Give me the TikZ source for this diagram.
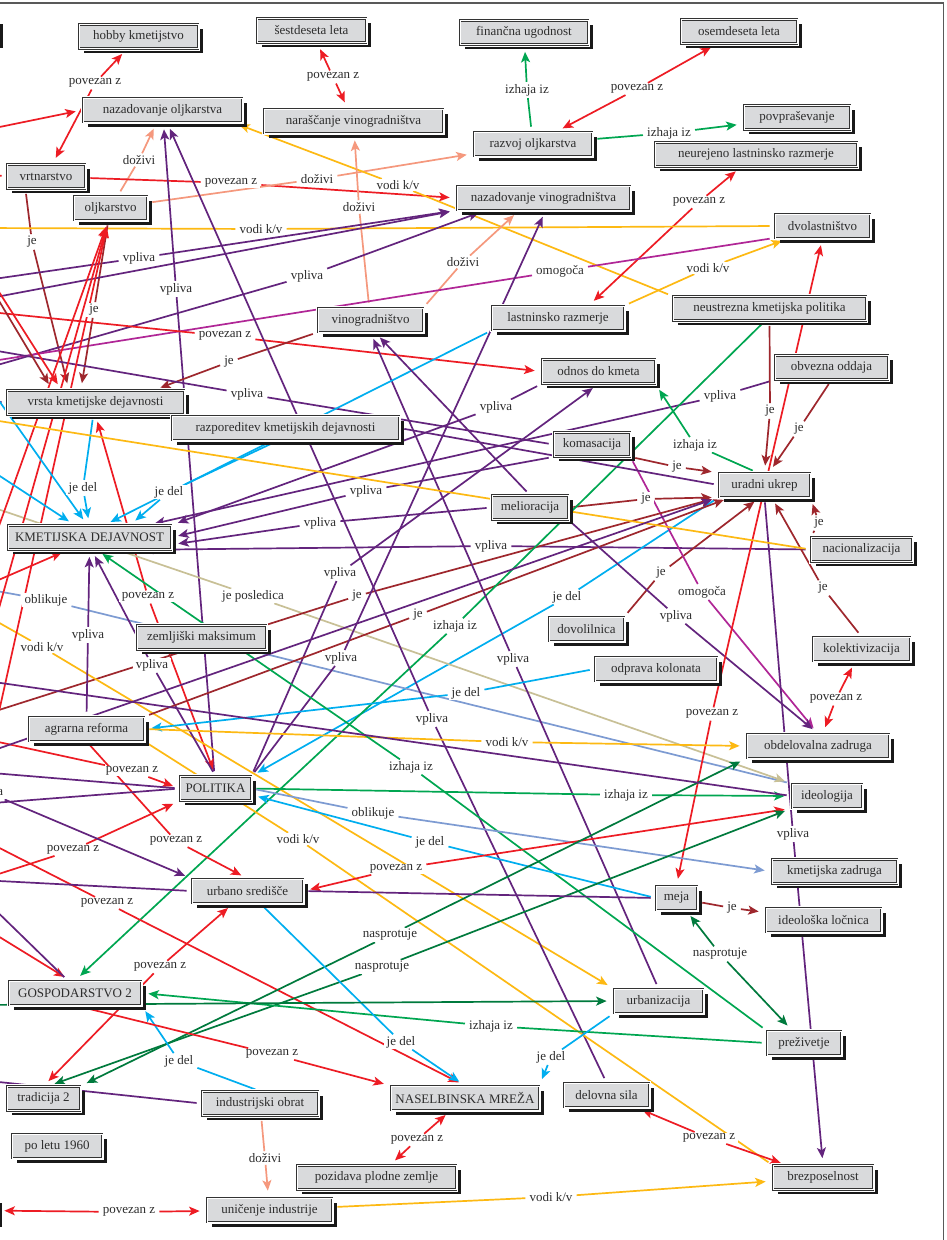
\documentclass[tikz,border=0pt]{standalone}
\usepackage{fontspec}
\setmainfont{Liberation Serif}
\usetikzlibrary{arrows.meta,shadows}
\definecolor{boxgray}{RGB}{217,218,220}
\definecolor{txtgray}{RGB}{45,45,45}
\definecolor{cRed}{RGB}{237,28,36}
\definecolor{cGreen}{RGB}{0,166,81}
\definecolor{cDkGreen}{RGB}{0,122,61}
\definecolor{cOrange}{RGB}{253,185,19}
\definecolor{cPurple}{RGB}{99,36,125}
\definecolor{cMag}{RGB}{176,38,150}
\definecolor{cCyan}{RGB}{0,174,239}
\definecolor{cBrown}{RGB}{158,39,45}
\definecolor{cSalmon}{RGB}{245,152,125}
\definecolor{cLtBlue}{RGB}{125,155,210}
\definecolor{cKhaki}{RGB}{200,192,150}
\pgfdeclarelayer{bg}
\pgfsetlayers{bg,main}
\newcommand\fs{\fontsize{13}{14}\selectfont}
% connector through a label node: source -- label -> target
\newcommand\lkone[4]{%
  \draw[ln,#1,shorten <=5pt,shorten >=1pt] (#2) -- (#3);
  \draw[ln,#1,->,shorten <=1pt,shorten >=7pt] (#3) -- (#4);}
% two-headed connector through a label node
\newcommand\lktwo[4]{%
  \draw[ln,#1,<-,shorten <=7pt,shorten >=1pt] (#2) -- (#3);
  \draw[ln,#1,->,shorten <=1pt,shorten >=7pt] (#3) -- (#4);}
% connector through a label node without heads
\newcommand\lkbare[4]{%
  \draw[ln,#1,shorten <=5pt,shorten >=1pt] (#2) -- (#3);
  \draw[ln,#1,shorten <=1pt,shorten >=5pt] (#3) -- (#4);}
% unlabelled connectors
\newcommand\lkarr[3]{\draw[ln,#1,->,shorten <=5pt,shorten >=7pt] (#2) -- (#3);}
\newcommand\lkpln[3]{\draw[ln,#1,shorten <=5pt,shorten >=5pt] (#2) -- (#3);}
\begin{document}
\begin{tikzpicture}[x=1pt,y=-1pt,
  box/.style={rectangle, minimum height=24pt, inner sep=0pt, text=txtgray, font=\fs,
    general shadow={fill=black!90, shadow xshift=5pt, shadow yshift=-4.5pt},
    preaction={draw=white, line width=4.2pt},
    fill=boxgray, draw=black!80, line width=0.75pt, double=white, double distance=0.6pt},
  lab/.style={fill=white, inner xsep=3pt, inner ysep=1pt, text=txtgray, font=\fs},
  ln/.style={line width=1.7pt, >={Stealth[length=10.5pt,width=9pt,inset=2.5pt]}},
  frame/.style={draw=black!65, line width=1.2pt}]
\useasboundingbox (0,0) rectangle (946,1240);
\begin{pgfonlayer}{bg}
\fill[white] (0,0) rectangle (946,1240);
\end{pgfonlayer}
\draw[frame] (0,3) -- (943.5,3) -- (943.5,1240);

% ---------------- concepts ----------------
\node[box,minimum width=120pt] (offa) at (-62,31.5) {};
\node[box,minimum width=119pt] (hob) at (138.5,36.5) {hobby kmetijstvo};
\node[box,minimum width=109pt] (ses) at (311.5,30.5) {šestdeseta leta};
\node[box,minimum width=128pt] (fin) at (524,32.5) {finančna ugodnost};
\node[box,minimum width=116pt] (ose) at (739,31.5) {osemdeseta leta};
\node[box,minimum width=159pt] (nzo) at (162.5,110) {nazadovanje oljkarstva};
\node[box,minimum width=179pt] (nar) at (353.5,121) {naraščanje vinogradništva};
\node[box,minimum width=118pt] (raz) at (533,144) {razvoj oljkarstva};
\node[box,minimum width=106pt] (pov) at (797,117.5) {povpraševanje};
\node[box,minimum width=202pt] (neu) at (756,154.5) {neurejeno lastninsko razmerje};
\node[box,minimum width=78pt] (vrt) at (46,176.5) {vrtnarstvo};
\node[box,minimum width=73pt] (olj) at (110.5,208) {oljkarstvo};
\node[box,minimum width=173pt] (nzv) at (543.5,198) {nazadovanje vinogradništva};
\node[box,minimum width=95pt] (dvo) at (822.5,226) {dvolastništvo};
\node[box,minimum width=193pt] (nkp) at (769.5,308.5) {neustrezna kmetijska politika};
\node[box,minimum width=105pt] (vin) at (370.5,320) {vinogradništvo};
\node[box,minimum width=132pt] (lar) at (558,318) {lastninsko razmerje};
\node[box,minimum width=113pt] (odk) at (598.5,371.5) {odnos do kmeta};
\node[box,minimum width=113pt] (obo) at (831.5,367.5) {obvezna oddaja};
\node[box,minimum width=177pt] (vkd) at (95.5,402.5) {vrsta kmetijske dejavnosti};
\node[box,minimum width=227pt] (rkd) at (285.5,428) {razporeditev kmetijskih dejavnosti};
\node[box,minimum width=76pt] (kom) at (592,444.5) {komasacija};
\node[box,minimum width=91pt] (uu) at (764.5,485) {uradni ukrep};
\node[box,minimum width=76pt] (mel) at (530,507.5) {melioracija};
\node[box,minimum width=163pt] (kd) at (89.5,537.5) {KMETIJSKA DEJAVNOST};
\node[box,minimum width=101pt] (nac) at (861.5,549.5) {nacionalizacija};
\node[box,minimum width=75pt] (dov) at (586.5,629) {dovolilnica};
\node[box,minimum width=129pt] (zm) at (201.5,637.5) {zemljiški maksimum};
\node[box,minimum width=97pt] (kol) at (861.5,649) {kolektivizacija};
\node[box,minimum width=122pt] (odp) at (656,669) {odprava kolonata};
\node[box,minimum width=115pt] (ar) at (86.5,729) {agrarna reforma};
\node[box,minimum width=142pt] (obz) at (818,746) {obdelovalna zadruga};
\node[box,minimum width=71pt] (pol) at (215.5,788.5) {POLITIKA};
\node[box,minimum width=70pt] (ide) at (827,796) {ideologija};
\node[box,minimum width=125pt] (kz) at (834.5,871.5) {kmetijska zadruga};
\node[box,minimum width=111pt] (us) at (247.5,891) {urbano središče};
\node[box,minimum width=41pt] (meja) at (676.5,898) {meja};
\node[box,minimum width=115pt] (il) at (823.5,920) {ideološka ločnica};
\node[box,minimum width=132pt] (gos) at (75,993) {GOSPODARSTVO 2};
\node[box,minimum width=89pt] (urb) at (658.5,1001) {urbanizacija};
\node[box,minimum width=74pt] (pre) at (804,1043) {preživetje};
\node[box,minimum width=73pt] (tra) at (43.5,1098.5) {tradicija 2};
\node[box,minimum width=116pt] (io) at (260,1103.5) {industrijski obrat};
\node[box,minimum width=148pt] (nm) at (465,1098) {NASELBINSKA MREŽA};
\node[box,minimum width=85pt] (ds) at (606.5,1095) {delovna sila};
\node[box,minimum width=90pt] (pl) at (57,1146) {po letu 1960};
\node[box,minimum width=159pt] (poz) at (376.5,1177.5) {pozidava plodne zemlje};
\node[box,minimum width=100pt] (bre) at (823,1177.5) {brezposelnost};
\node[box,minimum width=125pt] (uni) at (269.5,1210) {uničenje industrije};
\node[box,minimum width=120pt] (offb) at (-63,1210) {};

% ---------------- relation labels ----------------
\node[lab] (l1) at (95,83) {povezan z};
\node[lab] (l2) at (333,77) {povezan z};
\node[lab] (l3) at (527,90) {izhaja iz};
\node[lab] (l4) at (637,89) {povezan z};
\node[lab] (l5) at (669,133) {izhaja iz};
\node[lab] (l6) at (139,160) {doživi};
\node[lab] (l7) at (231,183) {povezan z};
\node[lab] (l8) at (317,179) {doživi};
\node[lab] (l9) at (398,185) {vodi k/v};
\node[lab] (l10) at (359,207) {doživi};
\node[lab] (l11) at (699,202) {povezan z};
\node[lab] (l12) at (32,242) {je};
\node[lab] (l13) at (261,229) {vodi k/v};
\node[lab] (l14) at (139,258) {vpliva};
\node[lab] (l15) at (307,276) {vpliva};
\node[lab] (l16) at (463,262) {doživi};
\node[lab] (l17) at (560,271) {omogoča};
\node[lab] (l18) at (708,268) {vodi k/v};
\node[lab] (l19) at (176,289) {vpliva};
\node[lab] (l20) at (94,310) {je};
\node[lab] (l21) at (225,336) {povezan z};
\node[lab] (l22) at (229,362) {je};
\node[lab] (l23) at (247,394) {vpliva};
\node[lab] (l24) at (496,407) {vpliva};
\node[lab] (l25) at (720,396) {vpliva};
\node[lab] (l26) at (770,411) {je};
\node[lab] (l27) at (799,429) {je};
\node[lab] (l28) at (695,445) {izhaja iz};
\node[lab] (l29) at (677,467) {je};
\node[lab] (l30) at (83,488) {je del};
\node[lab] (l31) at (169,492) {je del};
\node[lab] (l32) at (366,491) {vpliva};
\node[lab] (l33) at (320,523) {vpliva};
\node[lab] (l34) at (646,499) {je};
\node[lab] (l35) at (819,523) {je};
\node[lab] (l36) at (491,546) {vpliva};
\node[lab] (l37) at (567,597) {je del};
\node[lab] (l38) at (661,573) {je};
\node[lab] (l39) at (823,588) {je};
\node[lab] (l40) at (702,592) {omogoča};
\node[lab] (l41) at (46,600) {oblikuje};
\node[lab] (l42) at (148,597) {povezan z};
\node[lab] (l43) at (253,596) {je posledica};
\node[lab] (l44) at (357,596) {je};
\node[lab] (l45) at (340,573) {vpliva};
\node[lab] (l46) at (42,647) {vodi k/v};
\node[lab] (l47) at (88,635) {vpliva};
\node[lab] (l48) at (152,665) {vpliva};
\node[lab] (l49) at (418,615) {je};
\node[lab] (l50) at (455,626) {izhaja iz};
\node[lab] (l51) at (676,616) {vpliva};
\node[lab] (l52) at (341,658) {vpliva};
\node[lab] (l53) at (513,659) {vpliva};
\node[lab] (l54) at (466,693) {je del};
\node[lab] (l55) at (432,719) {vpliva};
\node[lab] (l56) at (712,714) {povezan z};
\node[lab] (l57) at (507,742) {vodi k/v};
\node[lab] (l58) at (836,699) {povezan z};
\node[lab] (l59) at (132,771) {povezan z};
\node[lab] (l60) at (411,767) {izhaja iz};
\node[lab] (l61) at (626,795) {izhaja iz};
\node[lab] (l62) at (373,813) {oblikuje};
\node[lab] (l63) at (298,839) {vodi k/v};
\node[lab] (l64) at (430,842) {je del};
\node[lab] (l65) at (73,850) {povezan z};
\node[lab] (l66) at (176,841) {povezan z};
\node[lab] (l67) at (793,834) {vpliva};
\node[lab] (l68) at (396,869) {povezan z};
\node[lab] (l69) at (107,903) {povezan z};
\node[lab] (l70) at (732,908) {je};
\node[lab] (l71) at (390,935) {nasprotuje};
\node[lab] (l72) at (382,967) {nasprotuje};
\node[lab] (l73) at (720,954) {nasprotuje};
\node[lab] (l74) at (160,967) {povezan z};
\node[lab] (l75) at (491,1026) {izhaja iz};
\node[lab] (l76) at (401,1042) {je del};
\node[lab] (l77) at (551,1057) {je del};
\node[lab] (l78) at (179,1061) {je del};
\node[lab] (l79) at (272,1054) {povezan z};
\node[lab] (l80) at (417,1140) {povezan z};
\node[lab] (l81) at (709,1138) {povezan z};
\node[lab] (l82) at (265,1158) {doživi};
\node[lab] (l83) at (129,1212) {povezan z};
\node[lab] (l84) at (551,1197) {vodi k/v};
\node[lab] (l85) at (-13,792) {vpliva};

% free ends beyond the left margin
\coordinate (w13) at (-20,228);
\coordinate (w14) at (-20,281);
\coordinate (w15) at (-20,370);
\coordinate (w17) at (-20,363);
\coordinate (w21) at (-20,311);
\coordinate (w23) at (-20,348);
\coordinate (w41) at (-20,588);
\coordinate (w43) at (-20,503);
\coordinate (w44) at (-20,716);
\coordinate (w46) at (-20,612);
\coordinate (w59) at (-20,738);
\coordinate (w65) at (-20,880);
\coordinate (w69) at (-20,838);
\coordinate (w85) at (-40,790);
\coordinate (wa) at (-20,131);
\coordinate (wb) at (-20,300);
\coordinate (wc1) at (-10,551);
\coordinate (wc2) at (-10,752);
\coordinate (wc3) at (-10,640);
\coordinate (wd) at (-20,262);
\coordinate (we) at (-20,269);
\coordinate (wf1) at (-20,374);
\coordinate (wf2) at (-20,463);
\coordinate (wg) at (-20,418);
\coordinate (wh) at (-20,1005);
\coordinate (wi) at (-20,1080);
\coordinate (wj) at (-20,925);
\coordinate (wk) at (-20,895);
\coordinate (wl1) at (-20,772);
\coordinate (wl2) at (-20,804);
\coordinate (wm) at (-20,880);
\coordinate (wn) at (-20,755);
\coordinate (wo) at (-20,680);
\coordinate (wp) at (-20,173);
\coordinate (wq) at (-20,588);
\coordinate (wr) at (-20,400);

% ---------------- relations ----------------
\begin{pgfonlayer}{bg}
\lktwo{cRed}{hob}{l1}{vrt}
\lktwo{cRed}{ses}{l2}{nar}
\lkone{cGreen}{raz}{l3}{fin}
\lktwo{cRed}{raz}{l4}{ose}
\lkone{cGreen}{raz}{l5}{pov}
\lkone{cSalmon}{olj}{l6}{nzo}
\lkone{cRed}{vrt}{l7}{nzv.west}
\lkone{cSalmon}{olj}{l8}{raz}
\lkone{cOrange}{nkp.north west}{l9}{nzo.-10}
\lkone{cSalmon}{vin}{l10}{nar}
\lktwo{cRed}{lar.22}{l11}{neu}
\lkone{cBrown}{vrt.211}{l12}{vkd.155}
\lkone{cOrange}{dvo.west}{l13}{w13}
\lkone{cPurple}{w14}{l14}{nzv.south west}
\lkone{cPurple}{w15}{l15}{nzv.192}
\lkone{cSalmon}{vin.north east}{l16}{nzv.207}
\lkone{cMag}{dvo.194}{l17}{w17}
\lkone{cOrange}{lar.north east}{l18}{dvo.200}
\lkone{cPurple}{pol}{l19}{nzo}
\lkone{cBrown}{olj.-100}{l20}{vkd.140}
\lkone{cRed}{w21}{l21}{odk.west}
\lkone{cBrown}{vin.south west}{l22}{vkd.12}
\lkone{cPurple}{kom.west}{l23}{w23}
\lkone{cPurple}{odk.south west}{l24}{kd.north east}
\lkone{cPurple}{obo.south west}{l25}{kd.12}
\lkone{cBrown}{nkp.south}{l26}{uu.north}
\lkone{cBrown}{obo.south}{l27}{uu.70}
\lkone{cGreen}{uu.120}{l28}{odk.south east}
\lkone{cBrown}{kom.south east}{l29}{uu.165}
\lkone{cCyan}{vkd.-100}{l30}{kd.north}
\lkone{cCyan}{rkd.-120}{l31}{kd.17}
\lkone{cPurple}{kom.south west}{l32}{kd.east}
\lkone{cPurple}{mel.west}{l33}{kd.-5}
\lkone{cBrown}{mel.east}{l34}{uu.195}
\lkone{cBrown}{nac.north west}{l35}{uu.south east}
\lkone{cPurple}{nac.west}{l36}{kd.-15}
\lkone{cCyan}{uu.south west}{l37}{pol.north east}
\lkone{cBrown}{dov.north east}{l38}{uu.-110}
\lkone{cBrown}{kol.north}{l39}{uu.-60}
\lkone{cMag}{kom.south east}{l40}{obz.north}
\lkone{cLtBlue}{ide.north west}{l41}{w41}
\lktwo{cRed}{pol.north}{l42}{vkd.south}
\lkone{cKhaki}{w43}{l43}{ide.north west}
\lkone{cBrown}{w44}{l44}{uu.south west}
\lkone{cPurple}{pol.north east}{l45}{odk.south}
\lkone{cOrange}{w46}{l46}{urb.north west}
\lkone{cPurple}{ar.north}{l47}{kd.south}
\lkone{cPurple}{pol.north}{l48}{kd.-80}
\lkone{cBrown}{ar.north east}{l49}{uu.200}
\lkone{cGreen}{nkp.-110}{l50}{gos.north}
\lkone{cPurple}{mel.south east}{l51}{obz.north}
\lkone{cPurple}{pol.north east}{l52}{nzv.-80}
\lkone{cPurple}{urb.north}{l53}{vin.south}
\lkone{cCyan}{odp.west}{l54}{ar.east}
\lkone{cPurple}{ds.north}{l55}{nzo.-70}
\lktwo{cRed}{meja.north}{l56}{dvo.south}
\lkone{cOrange}{ar.east}{l57}{obz.west}
\lktwo{cRed}{obz}{l58}{kol}
\lkone{cRed}{w59}{l59}{pol.west}
\lkone{cGreen}{pre.north west}{l60}{kd.-60}
\lkone{cGreen}{pol.east}{l61}{ide.west}
\lkone{cLtBlue}{pol.east}{l62}{kz.west}
\lkbare{cOrange}{ar.south east}{l63}{bre.north west}
\lkone{cCyan}{meja.west}{l64}{pol.-10}
\lktwo{cRed}{w65}{l65}{pol.south west}
\lkone{cRed}{ar.south}{l66}{us.north}
\lkone{cPurple}{uu.south}{l67}{bre.north}
\lktwo{cRed}{us.east}{l68}{ide.south west}
\lkone{cRed}{w69}{l69}{nm.north}
\lkone{cBrown}{meja}{l70}{il}
\lktwo{cDkGreen}{tra.north east}{l71}{obz.south west}
\lktwo{cDkGreen}{tra.70}{l72}{ide.south west}
\lktwo{cDkGreen}{meja}{l73}{pre}
\lktwo{cRed}{us}{l74}{tra.north}
\lkone{cGreen}{pre.west}{l75}{gos.east}
\lkone{cCyan}{us}{l76}{nm.north}
\lkone{cCyan}{urb.south west}{l77}{nm.north east}
\lkone{cCyan}{io.north}{l78}{gos.south east}
\lkone{cRed}{gos.south}{l79}{nm.north west}
\lktwo{cRed}{nm}{l80}{poz}
\lktwo{cRed}{ds}{l81}{bre}
\lkone{cSalmon}{io}{l82}{uni}
\lktwo{cRed}{offb}{l83}{uni}
\lkone{cOrange}{uni}{l84}{bre}
\lkone{cPurple}{w85}{l85}{us.north west}
% connectors whose labels lie beyond the margin
\lkarr{cRed}{wa}{nzo.west}
\lkpln{cRed}{wp}{vrt.west}
\lkarr{cPurple}{wb}{nzv.south west}
\lkarr{cRed}{wc1}{olj.-100}
\lkarr{cRed}{wc2}{olj.-100}
\lkarr{cRed}{wc3}{olj.-100}
\lkarr{cRed}{wd}{vkd.160}
\lkarr{cBrown}{we}{vkd.164}
\lkpln{cPurple}{wr}{vkd.west}
\lkarr{cCyan}{wf1}{kd.100}
\lkarr{cCyan}{wf2}{kd.140}
\lkarr{cRed}{wq}{kd.-150}
\lkarr{cCyan}{lar.south west}{kd.40}
\lkarr{cPurple}{mel.north}{vin.-70}
\lkarr{cOrange}{nac.west}{wg}
\lkarr{cPurple}{ide.west}{wo}
\lkarr{cDkGreen}{wh}{urb.west}
\lkarr{cPurple}{io.west}{wi}
\lkpln{cPurple}{us.east}{meja.west}
\lkarr{cRed}{wj}{gos.110}
\lkarr{cPurple}{gos.120}{wk}
\lkpln{cPurple}{wl1}{pol.west}
\lkpln{cPurple}{wl2}{pol.west}
\lkpln{cPurple}{wm}{us.west}
\lkarr{cPurple}{wn}{uu.south west}
\lkpln{cPurple}{rkd.east}{uu.west}
\end{pgfonlayer}
\end{tikzpicture}
\end{document}
